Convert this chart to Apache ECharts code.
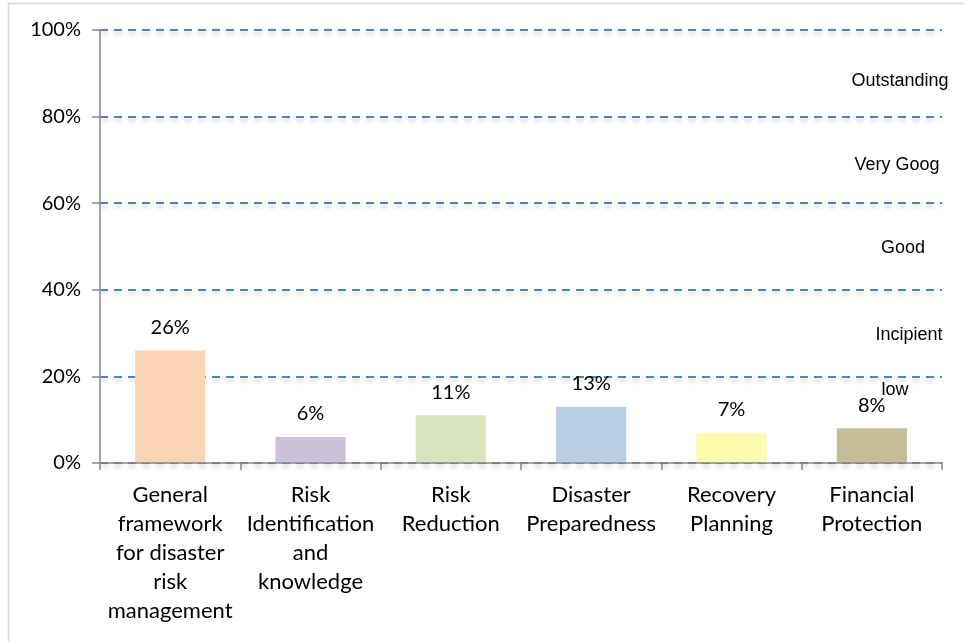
<!DOCTYPE html>
<html>
<head>
<meta charset="utf-8">
<script src="https://cdn.jsdelivr.net/npm/echarts@6/dist/echarts.min.js"></script>
<style>
html,body{margin:0;padding:0;background:#fff;}
#chart{width:964px;height:641px;}
</style>
</head>
<body>
<div id="chart"></div>
<script>
const categories = [
  "General\nframework\nfor disaster\nrisk\nmanagement",
  "Risk\nIdentification\nand\nknowledge",
  "Risk\nReduction",
  "Disaster\nPreparedness",
  "Recovery\nPlanning",
  "Financial\nProtection"
];
const values = [26, 6, 11, 13, 7, 8];
const barColors = ["#FBD5B5", "#CCC1DA", "#D7E4BD", "#B9CDE5", "#FFFCAF", "#C4BD97"];
const levelLabels = ["Outstanding", "Very Goog", "Good", "Incipient", "low"];

const chart = echarts.init(document.getElementById('chart'));
const labelFont = 'Lato, Carlito, "Noto Sans", sans-serif';

const levelPos = [
  {x: 900, y: 81},
  {x: 897, y: 165},
  {x: 903, y: 248},
  {x: 909, y: 335},
  {x: 895, y: 390}
];

chart.setOption({
  animation: false,
  backgroundColor: '#fff',
  grid: {left: 100, right: 22, top: 30, bottom: 178},
  xAxis: {
    type: 'category',
    data: categories,
    axisLine: {lineStyle: {color: '#878787', width: 1.5}},
    axisTick: {show: true, length: 7, lineStyle: {color: '#878787', width: 1.5}},
    axisLabel: {
      color: '#000', fontFamily: labelFont, fontSize: 22, lineHeight: 29,
      margin: 17, interval: 0
    },
    z: 5
  },
  yAxis: {
    type: 'value',
    min: 0, max: 100, interval: 20,
    axisLine: {show: true, lineStyle: {color: '#878787', width: 1.5}},
    axisTick: {show: true, length: 8, lineStyle: {color: '#878787', width: 1.5}},
    axisLabel: {
      color: '#000', fontFamily: labelFont, fontSize: 20, margin: 19,
      formatter: v => v + '%'
    },
    splitLine: {
      show: true,
      lineStyle: {
        color: '#4F81BD', width: 2, type: [8, 6],
        shadowColor: 'rgba(0,0,0,0.22)', shadowBlur: 4, shadowOffsetY: 3
      }
    }
  },
  series: [{
    type: 'bar',
    barCategoryGap: '50%',
    data: values.map((v, i) => ({value: v, itemStyle: {color: barColors[i]}})),
    label: {
      show: true, position: 'top', distance: 13,
      color: '#000', fontFamily: labelFont, fontSize: 20,
      formatter: p => p.value + '%'
    },
    z: 3
  }],
  graphic: [
    {
      type: 'rect', left: 6, top: 1,
      shape: {width: 1000, height: 700},
      style: {fill: 'none', stroke: '#d9d9d9', lineWidth: 1.5},
      silent: true, z: -1
    }
  ].concat(levelLabels.map((t, i) => ({
    type: 'text',
    x: levelPos[i].x, y: levelPos[i].y,
    style: {
      text: t, fill: '#000', font: '18px "Liberation Sans", Arial, sans-serif',
      textAlign: 'center', textVerticalAlign: 'middle'
    },
    z: 10
  })))
});
</script>
</body>
</html>
